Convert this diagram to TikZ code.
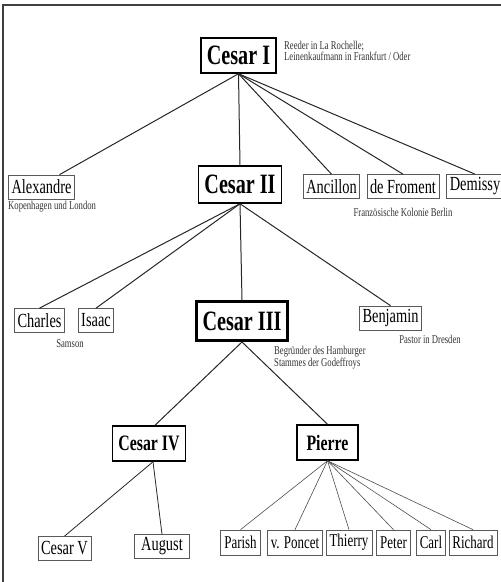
\documentclass[tikz,border=0pt]{standalone}
\usepackage{fontspec}
\setmainfont{Liberation Serif}[FakeStretch=0.72]

\tikzset{
  person/.style={draw=black!65, line width=0.7pt, inner xsep=3pt, inner ysep=1pt,
    minimum height=24pt, font=\fontsize{20}{22}\selectfont},
  kid/.style={person, inner xsep=3.5pt, minimum height=25pt, font=\fontsize{18}{20}\selectfont},
  heir/.style={draw, line width=1.5pt, inner xsep=6pt, minimum height=35pt,
    font=\bfseries\fontsize{28}{30}\selectfont},
  heirsmall/.style={heir, font=\bfseries\fontsize{22}{24}\selectfont},
  note/.style={inner sep=0pt, align=left, text=black!80, font=\fontsize{12}{10}\selectfont},
  tie/.style={line width=1pt, draw=black!85},
  thin tie/.style={line width=0.6pt, draw=black!70}
}

\begin{document}
\begin{tikzpicture}[x=1pt,y=-1pt]
\useasboundingbox (0,0) rectangle (501,582);
\draw[line width=1.2pt, black!75] (501,5) -- (3,5) -- (3,582);

% generation I
\node[heir] (c1) at (238.5,55.5) {Cesar I};
\node[note, anchor=north west] (c1note) at (284,41) {Reeder in La Rochelle;\\Leinenkaufmann in Frankfurt / Oder};

% generation II
\node[person] (alex) at (41.5,187) {Alexandre};
\node[note, anchor=west] (alexnote) at (8,207) {Kopenhagen und London};
\node[heir, minimum height=37pt] (c2) at (240,184.5) {Cesar II};
\node[person] (anc) at (331.5,186.5) {Ancillon};
\node[person] (fro) at (403,186.5) {de Froment};
\node[person] (dem) at (475,186.5) {Demissy};
\node[note] (fronote) at (403,212) {Französische Kolonie Berlin};

\draw[tie] (c1.south) -- ([xshift=18pt]alex.north);
\foreach \n in {c2,anc,fro,dem}
    \draw[tie] (c1.south) -- (\n.north);

% generation III
\node[person] (charles) at (39.5,320.5) {Charles};
\node[person] (isaac) at (96,320.5) {Isaac};
\node[note] (samson) at (70,344) {Samson};
\node[heir, line width=3pt, minimum height=39pt] (c3) at (242,321) {Cesar III};
\node[note, anchor=north west] (c3note) at (274,346) {Begründer des Hamburger\\Stammes der Godeffroys};
\node[person] (benj) at (390.5,318) {Benjamin};
\node[note] (benjnote) at (430,339) {Pastor in Dresden};

\foreach \n in {charles,isaac,c3,benj}
    \draw[tie] (c2.south) -- (\n.north);

% generation IV
\node[heirsmall] (c4) at (149,443.5) {Cesar IV};
\node[heirsmall, minimum width=61pt] (pierre) at (327.5,442.5) {Pierre};

\draw[tie] (c3.south) -- ([xshift=6pt]c4.north);
\draw[tie] (c3.south) -- (pierre.north);

% generation V
\node[person] (c5) at (64.5,548.5) {Cesar V};
\node[person, minimum width=55pt] (aug) at (162,546.5) {August};
\foreach \n in {c5,aug}
    \draw[tie, line width=0.8pt] ([xshift=4pt]c4.south) -- (\n.north);

\node[kid] (parish) at (240.5,542.5) {Parish};
\node[kid] (poncet) at (295,542.5) {v. Poncet};
\node[kid] (thierry) at (349,542.5) {Thierry};
\node[kid] (peter) at (393.5,542.5) {Peter};
\node[kid] (carl) at (431,542.5) {Carl};
\node[kid] (richard) at (473,542.5) {Richard};
\foreach \n in {parish,poncet,thierry,peter,carl,richard}
    \draw[thin tie] (pierre.south) -- (\n.north);

\end{tikzpicture}
\end{document}
